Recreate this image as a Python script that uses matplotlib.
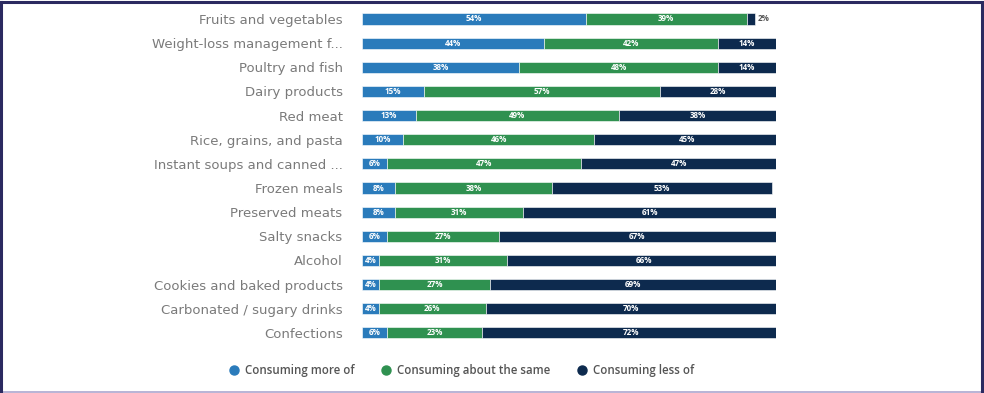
import numpy as np
import matplotlib.pyplot as plt
from matplotlib.patches import Rectangle
from matplotlib.lines import Line2D

# 各品类的消费变化（%）
categories = [
    'Fruits and vegetables',
    'Weight-loss management f...',
    'Poultry and fish',
    'Dairy products',
    'Red meat',
    'Rice, grains, and pasta',
    'Instant soups and canned ...',
    'Frozen meals',
    'Preserved meats',
    'Salty snacks',
    'Alcohol',
    'Cookies and baked products',
    'Carbonated / sugary drinks',
    'Confections',
]
more_of = [54, 44, 38, 15, 13, 10, 6, 8, 8, 6, 4, 4, 4, 6]
same = [39, 42, 48, 57, 49, 46, 47, 38, 31, 27, 31, 27, 26, 23]
less_of = [2, 14, 14, 28, 38, 45, 47, 53, 61, 67, 66, 69, 70, 72]

series_names = ['Consuming more of', 'Consuming about the same', 'Consuming less of']
colors = ['#2a7bbb', '#2f9150', '#0d2a4e']

plt.rcParams['font.family'] = ['Open Sans', 'DejaVu Sans']

fig = plt.figure(figsize=(9.84, 3.93), dpi=100)
ax = fig.add_axes([0.3679, 0.1221, 0.4207, 0.8603])

y = np.arange(len(categories))
left = np.zeros(len(categories))
for vals, color in zip([more_of, same, less_of], colors):
    vals = np.array(vals)
    ax.barh(y, vals, left=left, height=0.46, color=color,
            edgecolor='white', linewidth=0.4)
    for yi, l, v in zip(y, left, vals):
        if v >= 4:
            ax.text(l + v / 2, yi, f'{v}%', ha='center', va='center',
                    color='white', fontsize=5.8, fontweight='bold')
    left += vals

# 第一行的小数值标在条形右侧
ax.text(left[0] + 0.6, 0, f'{less_of[0]}%', ha='left', va='center',
        color='#555555', fontsize=5.8, fontweight='bold')

ax.set_xlim(0, 100)
ax.set_ylim(len(categories) - 0.5, -0.5)
ax.set_yticks(y)
ax.set_yticklabels(categories, fontsize=9.5, color='#7a7a7a', family='DejaVu Sans')
ax.tick_params(axis='y', length=0, pad=14)
ax.set_xticks([])
for s in ax.spines.values():
    s.set_visible(False)

# 图例
handles = [Line2D([0], [0], marker='o', color='none', markerfacecolor=c,
                  markeredgecolor=c, markersize=6.5) for c in colors]
fig.legend(handles, series_names, loc='center', bbox_to_anchor=(0.468, 0.058),
           ncol=3, frameon=False, handletextpad=0.3, handlelength=1.2,
           columnspacing=2.2, labelcolor='#555555',
           prop={'size': 8.3, 'weight': 'semibold'})

# 外边框：左、上、右为深色，底部为浅紫色
frame = '#2b2a60'
for xs, ys in [([0.001, 0.001], [0.0, 0.996]),
               ([0.0, 1.0], [0.995, 0.995]),
               ([0.9975, 0.9975], [0.0, 0.996])]:
    fig.add_artist(Line2D(xs, ys, transform=fig.transFigure, color=frame, linewidth=2.2))
fig.patches.append(Rectangle((0.0, 0.0), 1.0, 0.006, transform=fig.transFigure,
                             color='#b9b5d6', linewidth=0))

fig.savefig('out.png', dpi=100)
